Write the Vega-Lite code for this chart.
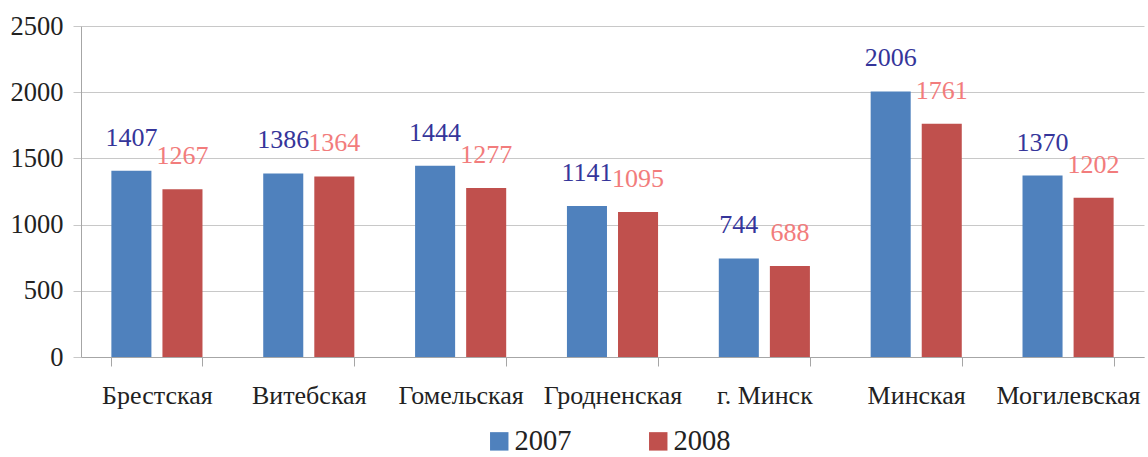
{
  "$schema": "https://vega.github.io/schema/vega-lite/v6.json",
  "width": 1063,
  "height": 331,
  "autosize": {"type": "none"},
  "padding": {"left": 81, "top": 26, "right": 4, "bottom": 100},
  "background": "white",
  "config": {"view": {"stroke": null}, "font": "Liberation Serif, Times New Roman, serif"},
  "data": {
    "values": [
      {"region": "Брестская", "year": "2007", "value": 1407},
      {"region": "Брестская", "year": "2008", "value": 1267},
      {"region": "Витебская", "year": "2007", "value": 1386},
      {"region": "Витебская", "year": "2008", "value": 1364},
      {"region": "Гомельская", "year": "2007", "value": 1444},
      {"region": "Гомельская", "year": "2008", "value": 1277},
      {"region": "Гродненская", "year": "2007", "value": 1141},
      {"region": "Гродненская", "year": "2008", "value": 1095},
      {"region": "г. Минск", "year": "2007", "value": 744},
      {"region": "г. Минск", "year": "2008", "value": 688},
      {"region": "Минская", "year": "2007", "value": 2006},
      {"region": "Минская", "year": "2008", "value": 1761},
      {"region": "Могилевская", "year": "2007", "value": 1370},
      {"region": "Могилевская", "year": "2008", "value": 1202}
    ]
  },
  "encoding": {
    "x": {
      "field": "region",
      "type": "nominal",
      "sort": null,
      "title": null,
      "scale": {"paddingInner": 0.4, "paddingOuter": 0.2},
      "axis": {
        "tickBand": "extent",
        "tickSize": 9,
        "tickColor": "#A6A6A6",
        "domainColor": "#A6A6A6",
        "labelAngle": 0,
        "labelFontSize": 26,
        "labelFont": "Liberation Serif, Times New Roman, serif",
        "labelColor": "#222222",
        "labelPadding": 16
      }
    },
    "xOffset": {"field": "year", "type": "nominal", "scale": {"paddingInner": 0.216}},
    "y": {
      "field": "value",
      "type": "quantitative",
      "title": null,
      "scale": {"domain": [0, 2500]},
      "axis": {
        "values": [0, 500, 1000, 1500, 2000, 2500],
        "format": "d",
        "gridColor": "#C8C8C8",
        "tickColor": "#C8C8C8",
        "tickSize": 8,
        "domainColor": "#A6A6A6",
        "labelFontSize": 26.5,
        "labelFont": "Liberation Serif, Times New Roman, serif",
        "labelColor": "#222222",
        "labelPadding": 10
      }
    }
  },
  "layer": [
    {
      "mark": {"type": "bar"},
      "encoding": {
        "color": {
          "field": "year",
          "type": "nominal",
          "scale": {"range": ["#4F81BD", "#C0504D"]},
          "legend": {
            "orient": "none",
            "legendX": 404,
            "legendY": 401,
            "direction": "horizontal",
            "title": null,
            "symbolType": "square",
            "symbolSize": 340,
            "symbolStrokeWidth": 0,
            "labelOffset": 1,
            "labelFontSize": 28.5,
            "labelFont": "Liberation Serif, Times New Roman, serif",
            "labelColor": "#222222",
            "columnPadding": 72
          }
        }
      }
    },
    {
      "mark": {"type": "text", "dy": -33, "baseline": "middle", "fontSize": 26, "font": "Liberation Serif, Times New Roman, serif"},
      "encoding": {
        "text": {"field": "value", "type": "quantitative", "format": "d"},
        "color": {
          "field": "year",
          "type": "nominal",
          "scale": {"range": ["#35359A", "#F27C7C"]},
          "legend": null
        }
      }
    }
  ],
  "resolve": {"scale": {"color": "independent"}}
}
